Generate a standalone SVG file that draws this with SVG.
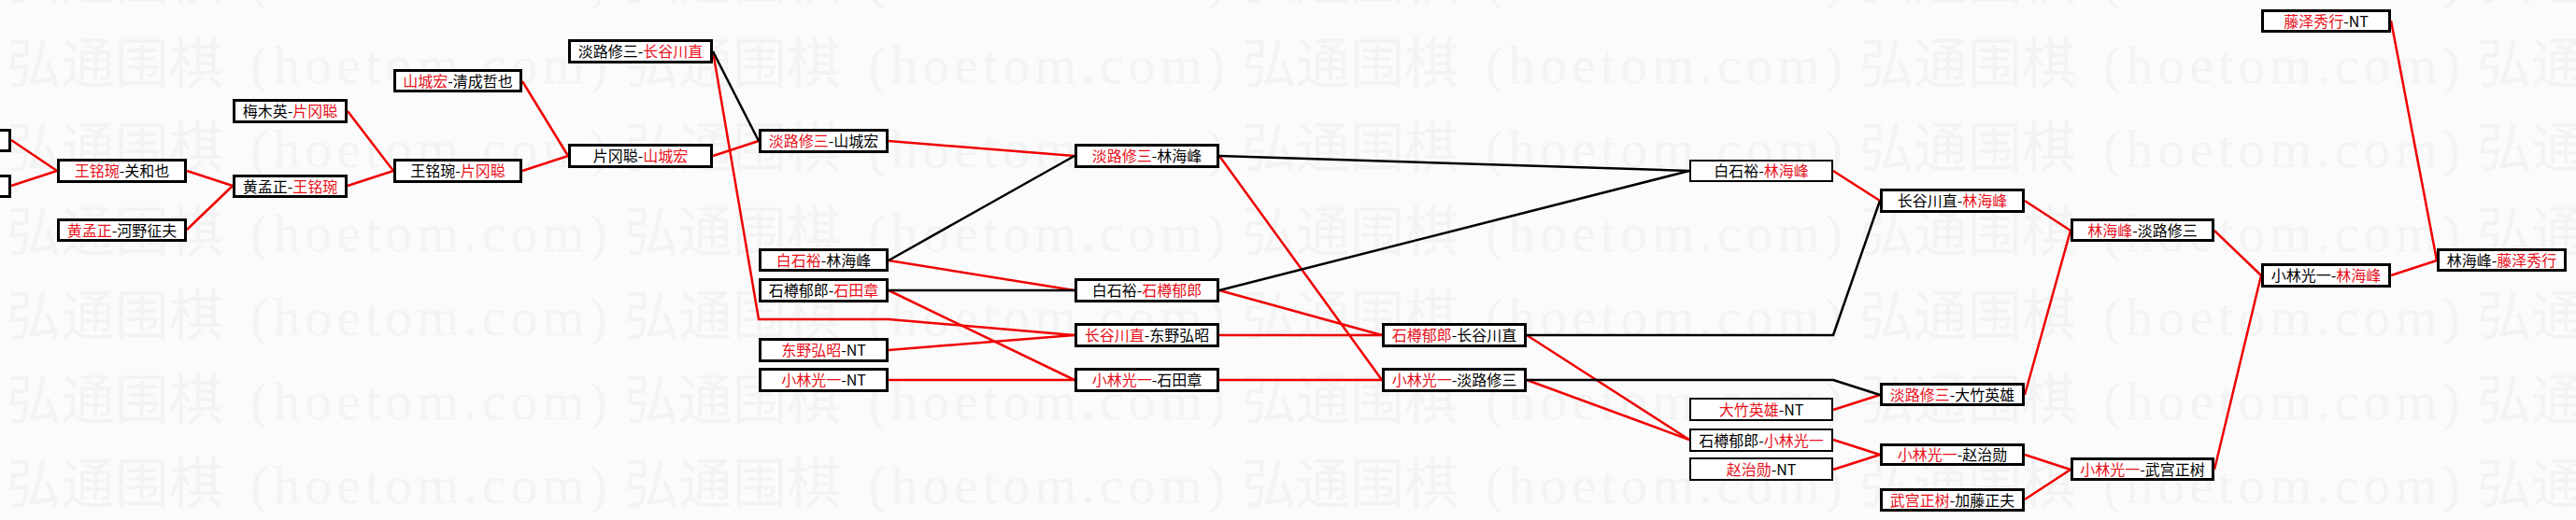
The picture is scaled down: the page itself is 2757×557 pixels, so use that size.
<svg xmlns="http://www.w3.org/2000/svg" width="2757" height="557" viewBox="0 0 2757 557">
<style>
.bg{fill:#fbfbfb}
.wm{font-family:"Noto Sans CJK SC",serif;font-size:58px;fill:#f3f3f3}
.wml{font-family:"Liberation Serif",serif;font-size:58px;fill:#f3f3f3;letter-spacing:5px}
.box{fill:#ffffff;stroke:#000;stroke-width:3}
.thin{stroke-width:2}
.t{font-family:"Noto Sans CJK SC","Noto Sans CJK JP",sans-serif;font-size:16px;fill:#000;text-anchor:middle}
.r{fill:#e8101a}
.lr{fill:none;stroke:#f00000;stroke-width:2.5;stroke-linejoin:round}
.lb{fill:none;stroke:#000;stroke-width:2.5;stroke-linejoin:round}
</style>
<defs>
<pattern id="wmp" x="0" y="9" width="661" height="90" patternUnits="userSpaceOnUse">
<text class="wm" x="7" y="80">弘通围棋</text>
<text class="wml" x="268" y="80">(hoetom.com)</text>
</pattern>
</defs>
<rect class="bg" x="0" y="0" width="2757" height="557"/>
<rect x="0" y="0" width="2757" height="557" fill="url(#wmp)"/>

<g id="connectors">
<polyline class="lr" points="12,150 61,183"/>
<polyline class="lr" points="12,199 61,183"/>
<polyline class="lr" points="200,183 249,199"/>
<polyline class="lr" points="200,246 249,199"/>
<polyline class="lr" points="372,119 421,183"/>
<polyline class="lr" points="372,199 421,183"/>
<polyline class="lr" points="559,87 608,167"/>
<polyline class="lr" points="559,183 608,167"/>
<polyline class="lr" points="763,167 812,151"/>
<polyline class="lr" points="763,55 812,342 951,342 1150,359"/>
<polyline class="lr" points="951,151 1150,167"/>
<polyline class="lr" points="951,279 1150,311"/>
<polyline class="lr" points="951,311 1150,407"/>
<polyline class="lr" points="951,375 1150,359"/>
<polyline class="lr" points="951,407 1150,407"/>
<polyline class="lr" points="1305,167 1479,407"/>
<polyline class="lr" points="1305,311 1479,359"/>
<polyline class="lr" points="1305,359 1479,359"/>
<polyline class="lr" points="1305,407 1479,407"/>
<polyline class="lr" points="1634,359 1808,471"/>
<polyline class="lr" points="1634,407 1808,471"/>
<polyline class="lr" points="1962,183 2012,215"/>
<polyline class="lr" points="1962,439 2012,423"/>
<polyline class="lr" points="1962,471 2012,487"/>
<polyline class="lr" points="1962,503 2012,487"/>
<polyline class="lr" points="2167,215 2216,247"/>
<polyline class="lr" points="2167,423 2216,247"/>
<polyline class="lr" points="2167,487 2216,503"/>
<polyline class="lr" points="2167,535 2216,503"/>
<polyline class="lr" points="2370,247 2420,295"/>
<polyline class="lr" points="2370,503 2420,295"/>
<polyline class="lr" points="2559,22 2608,279"/>
<polyline class="lr" points="2559,295 2608,279"/>
<polyline class="lb" points="763,55 812,151"/>
<polyline class="lb" points="951,279 1150,167"/>
<polyline class="lb" points="951,311 1150,311"/>
<polyline class="lb" points="1305,167 1808,183"/>
<polyline class="lb" points="1305,311 1808,183"/>
<polyline class="lb" points="1634,359 1962,359 2012,215"/>
<polyline class="lb" points="1634,407 1962,407 2012,423"/>
</g>

<g id="n0a"><rect class="box" x="-127" y="139.5" width="137.5" height="22"/></g>
<g id="n0b"><rect class="box" x="-127" y="188.5" width="137.5" height="22"/></g>
<g id="n1"><rect class="box" x="62.5" y="171.5" width="136" height="23"/><text class="t" x="130.5" y="189"><tspan class="r">王铭琬</tspan>-关和也</text></g>
<g id="n2"><rect class="box" x="62.5" y="235.5" width="136" height="22"/><text class="t" x="130.5" y="252.5"><tspan class="r">黄孟正</tspan>-河野征夫</text></g>
<g id="n3"><rect class="box" x="250.5" y="107.5" width="120" height="23"/><text class="t" x="310.5" y="125">梅木英-<tspan class="r">片冈聪</tspan></text></g>
<g id="n4"><rect class="box" x="250.5" y="188.5" width="120" height="22"/><text class="t" x="310.5" y="205.5">黄孟正-<tspan class="r">王铭琬</tspan></text></g>
<g id="n5"><rect class="box" x="422.5" y="75.5" width="135" height="22"/><text class="t" x="490" y="92.5"><tspan class="r">山城宏</tspan>-清成哲也</text></g>
<g id="n6"><rect class="box" x="422.5" y="171.5" width="135" height="23"/><text class="t" x="490" y="189">王铭琬-<tspan class="r">片冈聪</tspan></text></g>
<g id="n7"><rect class="box" x="609.5" y="43.5" width="152" height="23"/><text class="t" x="685.5" y="61">淡路修三-<tspan class="r">长谷川直</tspan></text></g>
<g id="n8"><rect class="box" x="609.5" y="155.5" width="152" height="23"/><text class="t" x="685.5" y="173">片冈聪-<tspan class="r">山城宏</tspan></text></g>
<g id="n9"><rect class="box" x="813.5" y="139.5" width="136" height="23"/><text class="t" x="881.5" y="157"><tspan class="r">淡路修三</tspan>-山城宏</text></g>
<g id="n10"><rect class="box" x="813.5" y="267.5" width="136" height="22"/><text class="t" x="881.5" y="284.5"><tspan class="r">白石裕</tspan>-林海峰</text></g>
<g id="n11"><rect class="box" x="813.5" y="299.5" width="136" height="23"/><text class="t" x="881.5" y="317">石樽郁郎-<tspan class="r">石田章</tspan></text></g>
<g id="n12"><rect class="box" x="813.5" y="363.5" width="136" height="23"/><text class="t" x="881.5" y="381"><tspan class="r">东野弘昭</tspan>-NT</text></g>
<g id="n13"><rect class="box" x="813.5" y="395.5" width="136" height="23"/><text class="t" x="881.5" y="413"><tspan class="r">小林光一</tspan>-NT</text></g>
<g id="n14"><rect class="box" x="1151.5" y="155.5" width="152" height="23"/><text class="t" x="1227.5" y="173"><tspan class="r">淡路修三</tspan>-林海峰</text></g>
<g id="n15"><rect class="box" x="1151.5" y="299.5" width="152" height="23"/><text class="t" x="1227.5" y="317">白石裕-<tspan class="r">石樽郁郎</tspan></text></g>
<g id="n16"><rect class="box" x="1151.5" y="347.5" width="152" height="23"/><text class="t" x="1227.5" y="365"><tspan class="r">长谷川直</tspan>-东野弘昭</text></g>
<g id="n17"><rect class="box" x="1151.5" y="395.5" width="152" height="23"/><text class="t" x="1227.5" y="413"><tspan class="r">小林光一</tspan>-石田章</text></g>
<g id="n18"><rect class="box" x="1480.5" y="347.5" width="152" height="23"/><text class="t" x="1556.5" y="365"><tspan class="r">石樽郁郎</tspan>-长谷川直</text></g>
<g id="n19"><rect class="box" x="1480.5" y="395.5" width="152" height="23"/><text class="t" x="1556.5" y="413"><tspan class="r">小林光一</tspan>-淡路修三</text></g>
<g id="n20"><rect class="box thin" x="1809" y="172" width="152" height="22"/><text class="t" x="1885" y="189">白石裕-<tspan class="r">林海峰</tspan></text></g>
<g id="n21"><rect class="box thin" x="1809" y="427" width="152" height="23"/><text class="t" x="1885" y="444.5"><tspan class="r">大竹英雄</tspan>-NT</text></g>
<g id="n22"><rect class="box thin" x="1809" y="460" width="152" height="23"/><text class="t" x="1885" y="477.5">石樽郁郎-<tspan class="r">小林光一</tspan></text></g>
<g id="n23"><rect class="box thin" x="1809" y="491" width="152" height="23"/><text class="t" x="1885" y="508.5"><tspan class="r">赵治勋</tspan>-NT</text></g>
<g id="n24"><rect class="box" x="2013.5" y="203.5" width="152" height="23"/><text class="t" x="2089.5" y="221">长谷川直-<tspan class="r">林海峰</tspan></text></g>
<g id="n25"><rect class="box" x="2013.5" y="411.5" width="152" height="22"/><text class="t" x="2089.5" y="428.5"><tspan class="r">淡路修三</tspan>-大竹英雄</text></g>
<g id="n26"><rect class="box" x="2013.5" y="476.5" width="152" height="21"/><text class="t" x="2089.5" y="493"><tspan class="r">小林光一</tspan>-赵治勋</text></g>
<g id="n27"><rect class="box" x="2013.5" y="524.5" width="152" height="22"/><text class="t" x="2089.5" y="541.5"><tspan class="r">武宫正树</tspan>-加藤正夫</text></g>
<g id="n28"><rect class="box" x="2217.5" y="235.5" width="151" height="22"/><text class="t" x="2293" y="252.5"><tspan class="r">林海峰</tspan>-淡路修三</text></g>
<g id="n29"><rect class="box" x="2217.5" y="491.5" width="151" height="22"/><text class="t" x="2293" y="508.5"><tspan class="r">小林光一</tspan>-武宫正树</text></g>
<g id="n30"><rect class="box" x="2421.5" y="11.5" width="136" height="22"/><text class="t" x="2489.5" y="28.5"><tspan class="r">藤泽秀行</tspan>-NT</text></g>
<g id="n31"><rect class="box" x="2421.5" y="283.5" width="136" height="23"/><text class="t" x="2489.5" y="301">小林光一-<tspan class="r">林海峰</tspan></text></g>
<g id="n32"><rect class="box" x="2609.5" y="267.5" width="136" height="22"/><text class="t" x="2677.5" y="284.5">林海峰-<tspan class="r">藤泽秀行</tspan></text></g>
</svg>
